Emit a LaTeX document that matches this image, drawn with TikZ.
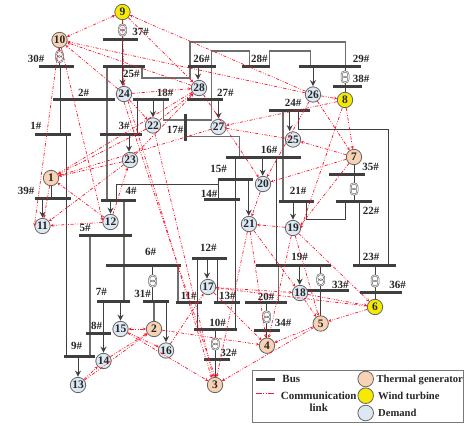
\documentclass[tikz,border=0pt]{standalone}
\usepackage{fontspec}
\setmainfont{Liberation Serif}
\usetikzlibrary{arrows.meta,backgrounds}
\definecolor{thermal}{HTML}{F8D2B4}
\definecolor{windy}{HTML}{F6EA00}
\definecolor{demand}{HTML}{DDE8F3}
\definecolor{dk}{HTML}{3F3F3F}
\definecolor{gr}{HTML}{6E6E6E}
\definecolor{lnk}{HTML}{FF1428}
\tikzset{
  txt/.style={font=\fontsize{11}{11}\selectfont\bfseries,text=black!85,inner sep=0pt},
  lab/.style={txt},
  busbar/.style={fill=dk,inner sep=0pt,minimum height=3pt},
  gen/.style={circle,draw=dk!80,line width=.8pt,minimum size=15.4pt,inner sep=0pt,font=\fontsize{11.5}{11}\selectfont\bfseries,text=black!85},
  th/.style={gen,fill=thermal},
  wd/.style={gen,fill=windy},
  dm/.style={gen,fill=demand},
  wire/.style={draw=dk,line width=1pt},
  grw/.style={draw=gr,line width=1.2pt},
  arr/.style={draw=dk,line width=1pt,-{Stealth[length=6pt,width=6pt]},shorten >=.2pt},
  link/.style={draw=lnk,line width=.7pt,dash pattern=on 3.2pt off 1.6pt on .8pt off 1.6pt on .8pt off 1.6pt,-{Stealth[length=3pt,width=3pt]}},
  linkb/.style={link,{Stealth[length=3pt,width=3pt]}-{Stealth[length=3pt,width=3pt]}},
  trafo/.style={draw=dk!80,fill=white,line width=.5pt,rounded corners=3.8pt,minimum width=8pt,minimum height=12.5pt,inner sep=0pt,
    path picture={\draw[dk!80,line width=.45pt] ([yshift=2pt]path picture bounding box.center) circle (2.9pt) ([yshift=-2pt]path picture bounding box.center) circle (2.9pt);}},
}
\newcommand{\vw}[4][wire]{\draw[#1] (#2,0 |- #3) -- (#2,0 |- #4);}
\begin{document}
\begin{tikzpicture}[x=1pt,y=-1pt]
\useasboundingbox (0,0) rectangle (464,426);
% buses
\foreach \n/\a/\b/\y in {30/38.5/74/66,2/52.5/115/99.5,1/35/71/134,37/103/138/39,25/103/145/66,3/100/142/134,39/35/71/198,4/101/136/200,18/133/169/99.5,26/188/216/66,27/187/223/99.5,28/242/270/66,29/299/361/66,38/333/361.6/86,24/269/310/110.5,16/226/300.7/157,15/217.7/253/179.3,14/204/240/199.7,21/278.7/314/201,35/329/365/174,22/336/372/201,5/79/131.7/235,6/106/180.7/265.3,12/192.3/226.7/258.3,7/97.3/130.3/301,31/143.3/169/301,11/175.7/201.7/302.3,13/214.3/240/302.7,20/244.7/287.3/302.3,10/194.3/236.7/329.7,8/85.7/111.3/333,9/64/94.7/356.7,32/204.3/230/359.3,34/254/279.7/330.7,19/256.3/331/265.3,33/307/348.7/290.7,23/353/395.7/265.3,36/360/402.3/292.3}
  \node[busbar,minimum width={(\b-\a)*1pt}] (b\n) at ({(\a+\b)/2},\y) {};
\node[busbar,minimum width=3pt,minimum height=27pt] (b17) at (185,127.5) {};
% transformers
\foreach \n/\x/\y in {t37/122.5/30,t30/59.5/56.5,t38/345/77,t35/354/189,t36/375/281,t33/320.7/279.7,t34/266.7/317,t31/152.7/281,t32/215.3/344}
  \node[trafo] (\n) at (\x,\y) {};
% generators and demands
\foreach \n/\x/\y in {1/51/178,2/154/329,3/215/385,4/267/345.7,5/320.7/323.5,7/354/157,10/59.5/40}
  \node[th] (n\n) at (\x,\y) {\n};
\foreach \n/\x/\y in {6/375/307,8/345/100,9/122.5/12}
  \node[wd] (n\n) at (\x,\y) {\n};
\foreach \n/\x/\y in {11/42.5/226,12/110.5/222,13/78/385,14/103.5/361,15/120.5/329,16/166/350.5,17/208/287,18/300/293,19/293/228,20/263/184,21/249/224,22/153/125.5,23/130/160,24/124/94,25/293/139.5,26/313/94.5,27/218.5/127,28/199/88}
  \node[dm] (n\n) at (\x,\y) {\n};
% bus labels
\foreach \n/\x/\y in {30/36/59,2/83.7/92.7,1/36/126,37/140.7/32,25/131.3/74,3/124/126,39/26/191,4/131/191,18/165/93,26/201.7/59,27/225.3/92.7,17/175/130,28/259.3/59,29/361/59,38/361/79,24/293/103,16/269/150,21/298/191,15/218.7/169,14/209/193.7,35/370.7/167,22/371/210.7,12/208.3/248,5/85/228.3,6/150.7/252,7/101.3/292,31/142.7/294,11/188.7/295.7,13/227.3/296,20/266/297.3,8/96.7/326.3,10/217.7/322.7,9/76.7/345.7,32/228.7/353.3,34/283/323,19/299.7/257.3,33/340.3/285.3,23/371/257.3,36/397.7/285}
  \node[lab] (l\n) at (\x,\y) {\n\#};
% wires
\begin{scope}[on background layer]
\vw{122.5}{n9}{t37}\vw{122.5}{t37}{b37}\vw[arr]{122.5}{b37}{n24.north}
\vw{59.5}{n10}{t30}\vw{59.5}{t30}{b30}\vw{60}{b30}{b1}
\vw{66.5}{b1}{b9}
\vw[grw]{107}{b25}{b4}
\draw[grw] (142,0 |- b25) -- (142,78) -- (190,78) -- (190,0 |- b26);
\draw[grw] (190,0 |- b26) -- (190,42) -- (345.7,42) -- (345.7,0 |- b29);
\draw[grw] (211.7,0 |- b27) -- (211.7,51) -- (249.3,51) -- (249.3,0 |- b28);
\draw[grw] (163.3,0 |- b18) -- (163.3,120) -- (211.7,120) -- (211.7,0 |- b27);
\draw[grw] (185,136.7) -- (239.3,136.7) -- (239.3,0 |- b16);
\draw[grw] (269.3,0 |- b28) -- (269.3,51) -- (310.3,51) -- (310.3,0 |- b29);
\vw[arr]{313}{b29}{n26.north}
\vw[arr]{198}{b26}{n28.north}
\vw[arr]{153}{b18}{n22.north}
\vw{137.3}{b18}{b3}
\vw[arr]{129}{b3}{n23.north}
\vw[arr]{218.5}{b27}{n27.north}
\draw[wire] (116.7,0 |- b4) -- (116.7,184) -- (218.3,184) -- (218.3,0 |- b14);
\vw{218.3}{b15}{b14}
\vw[arr]{248.7}{b15}{n21.north}
\vw[arr]{262.7}{b16}{n20.north}
\vw{235.7}{b16}{b10}
\vw{276.3}{b16}{b19}
\vw[grw]{278.3}{b19}{b20}
\vw[grw]{283}{b24}{b21}
\vw[arr]{289.7}{b24}{n25.north}
\draw[wire] (298.3,0 |- b24) -- (298.3,129) -- (388,129) -- (388,0 |- b23);
\vw[arr]{293}{b21}{n19.north}
\draw[wire] (306.7,0 |- b21) -- (306.7,219.7) -- (345.7,219.7) -- (345.7,0 |- b22);
\vw{354}{n7}{b35}\vw{354}{b35}{t35}\vw{354}{t35}{b22}
\vw{359}{b22}{b23}
\vw{375}{b23}{t36}\vw{375}{t36}{b36}\vw{375}{b36}{n6}
\vw{345}{n8}{b38}\vw{345}{b38}{t38}\vw{345}{t38}{b29}
\vw[wire]{51}{n1}{b39}
\vw[arr]{42.5}{b39}{n11.north}
\vw[arr]{110.5}{b4}{n12.north}
\vw[grw]{124}{b4}{b7}
\vw[grw]{90}{b5}{b9}
\vw[arr]{103.5}{b7}{n14.north}
\vw[arr]{120.5}{b7}{n15.north}
\vw{152.7}{b6}{t31}\vw{152.7}{t31}{b31}
\vw[grw]{154}{b31}{n2}
\vw[arr]{166}{b31}{n16.north}
\vw[grw]{178}{b6}{b11}
\vw{197.3}{b12}{b10}
\vw{217}{b12}{b13}
\vw[arr]{207}{b12}{n17.north}
\vw[arr]{78}{b9}{n13.north}
\vw{215.3}{b10}{t32}\vw{215.3}{t32}{b32}\vw{215.3}{b32}{n3}
\vw{266.7}{b20}{t34}\vw{266.7}{t34}{b34}\vw{266.7}{b34}{n4}
\vw[arr]{299.7}{b19}{n18.north}
\vw{320.7}{b19}{t33}\vw{320.7}{t33}{b33}\vw{320.7}{b33}{n5}
\end{scope}
% communication links
\draw[linkb] (n9) -- (n10);
\draw[linkb] (n15) -- (n2);
\foreach \a/\b in {n26/n9,n9/n24,n9/n28,n26/n10,n28/n10,n24/n10,n10/n11.180,n10/n12.170,
  n28/n1,n27/n1,n22/n1,n23/n1,n12/n1,n1/n11,n23/n11,n12/n11,n12/n23,
  n24/n28,n22/n28,n23/n28,n24/n22,
  n8/n27,n27/n25,n7/n25,n26/n8,n26/n7,n8/n7,n8/n19.0,n7/n19.20,n7/n20,n26/n20,n28/n20,n20/n21,n19/n21,
  n21/n4,n21/n18,n21/n3,n18/n5,n19/n5,n19/n4,n19/n6,n6/n5,n5/n3,n5/n4,n18/n6,n6/n17,n17/n18,
  n2/n4,n13/n14,n13/n2,n14/n2,n15/n16,n15/n3,n16/n17,n17/n4,n24.south/n3.north,n24.-60/n3.115,n22/n3}
  \draw[link] (\a) -- (\b);
% legend
\node[draw=dk!70,line width=.8pt,inner sep=0pt,minimum width=211pt,minimum height=51.6pt] (lg) at (358.3,396.5) {};
\coordinate (lb1) at (256,379.3); \coordinate (lb2) at (275.3,379.3);
\coordinate (lc1) at (256,393); \coordinate (lc2) at (275.3,393);
\draw[dk,line width=2.4pt] (lb1) -- (lb2);
\draw[lnk,line width=.8pt,dash pattern=on 6pt off 1.4pt on 1pt off 1.4pt on 1pt off 1.4pt] (lc1) -- (lc2);
\node[txt] (tbus) at (291.3,379) {Bus};
\node[txt] (tcom) at (318.7,395.7) {Communication};
\node[txt] (tlink) at (318.7,408) {link};
\node[th,minimum size=15.6pt] (ct) at (365.7,379) {};
\node[wd,minimum size=15.6pt] (cw) at (365.7,395.7) {};
\node[dm,minimum size=15.6pt] (cd) at (365.7,413) {};
\node[txt,anchor=west,font=\fontsize{10.6}{11}\selectfont\bfseries] (tt) at (376.4,380) {Thermal generator};
\node[txt,anchor=west,font=\fontsize{10.6}{11}\selectfont\bfseries] (tw) at (378,396) {Wind turbine};
\node[txt,anchor=west,font=\fontsize{10.6}{11}\selectfont\bfseries] (td) at (378,413.3) {Demand};
\end{tikzpicture}
\end{document}
